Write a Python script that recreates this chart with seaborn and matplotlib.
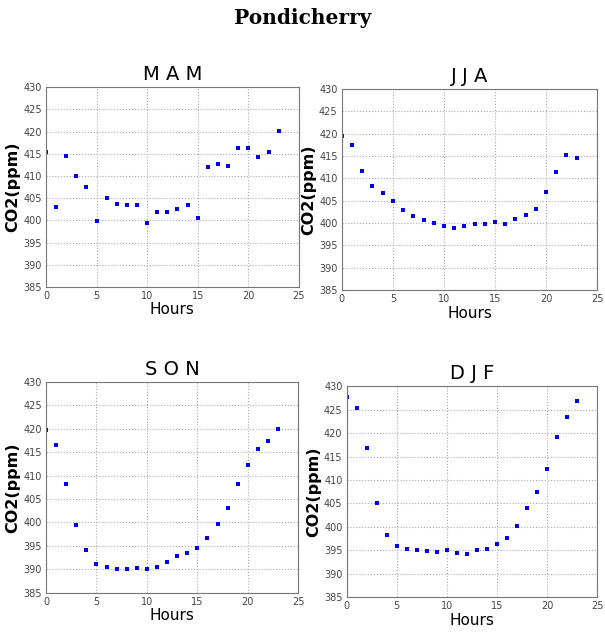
import numpy as np
import pandas as pd
import matplotlib
matplotlib.use("Agg")
import matplotlib.pyplot as plt
import seaborn as sns

hours = list(range(24))
seasons = ["M A M", "J J A", "S O N", "D J F"]

mam = [415.5, 403.1, 414.5, 410.0, 407.6, 399.9, 405.0, 403.7, 403.5, 403.4,
       399.5, 401.9, 401.9, 402.5, 403.5, 400.5, 412.1, 412.8, 412.2, 416.2,
       416.3, 414.3, 415.5, 420.1]
jja = [419.4, 417.4, 411.6, 408.3, 406.8, 405.0, 402.9, 401.7, 400.6, 400.1,
       399.4, 398.8, 399.4, 399.7, 399.7, 400.3, 399.8, 401.0, 401.9, 403.1,
       407.0, 411.5, 415.2, 414.5]
son = [419.7, 416.6, 408.2, 399.4, 394.1, 391.1, 390.4, 390.0, 390.0, 390.2,
       390.0, 390.6, 391.5, 392.8, 393.5, 394.6, 396.7, 399.6, 403.1, 408.2,
       412.2, 415.6, 417.3, 420.0]
djf = [427.7, 425.4, 416.9, 405.1, 398.3, 395.9, 395.2, 395.0, 394.9, 394.7,
       395.0, 394.5, 394.3, 395.0, 395.2, 396.4, 397.7, 400.1, 404.1, 407.5,
       412.3, 419.1, 423.5, 426.8]

sns.set_style("whitegrid")
plt.rcParams['font.family'] = ['DejaVu Sans']

fig = plt.figure(figsize=(6.05, 6.32), dpi=100)
boxes = [
    [0.076, 0.546, 0.418, 0.316],
    [0.565, 0.541, 0.422, 0.318],
    [0.076, 0.062, 0.417, 0.334],
    [0.573, 0.055, 0.414, 0.334],
]

for box, name, vals in zip(boxes, seasons, [mam, jja, son, djf]):
    ax = fig.add_axes(box)
    df = pd.DataFrame({"hour": hours, "co2": vals})
    sns.scatterplot(data=df, x="hour", y="co2", ax=ax, color="#0000ee",
                    marker="s", s=8, linewidth=0)
    ax.set_xlim(0, 25)
    ax.set_ylim(385, 430)
    ax.set_xticks(range(0, 26, 5))
    ax.set_yticks(range(385, 431, 5))
    ax.grid(True, linestyle=":", color="#aaaaaa", linewidth=0.8)
    for sp in ax.spines.values():
        sp.set_visible(True)
        sp.set_color("#777777")
        sp.set_linewidth(0.8)
    ax.tick_params(axis="both", direction="in", length=3, labelsize=7,
                   colors="#444444", pad=3)
    ax.set_title(name, fontsize=14, pad=5, color="black")
    ax.set_xlabel("Hours", fontsize=11, labelpad=1, color="black")
    ax.set_ylabel("CO2(ppm)", fontsize=11.5, fontweight="bold", labelpad=2,
                  color="black")

fig.suptitle("Pondicherry", fontsize=14.5, fontweight="bold",
             family="DejaVu Serif", y=0.987, color="black")

fig.savefig("out.png", dpi=100)
